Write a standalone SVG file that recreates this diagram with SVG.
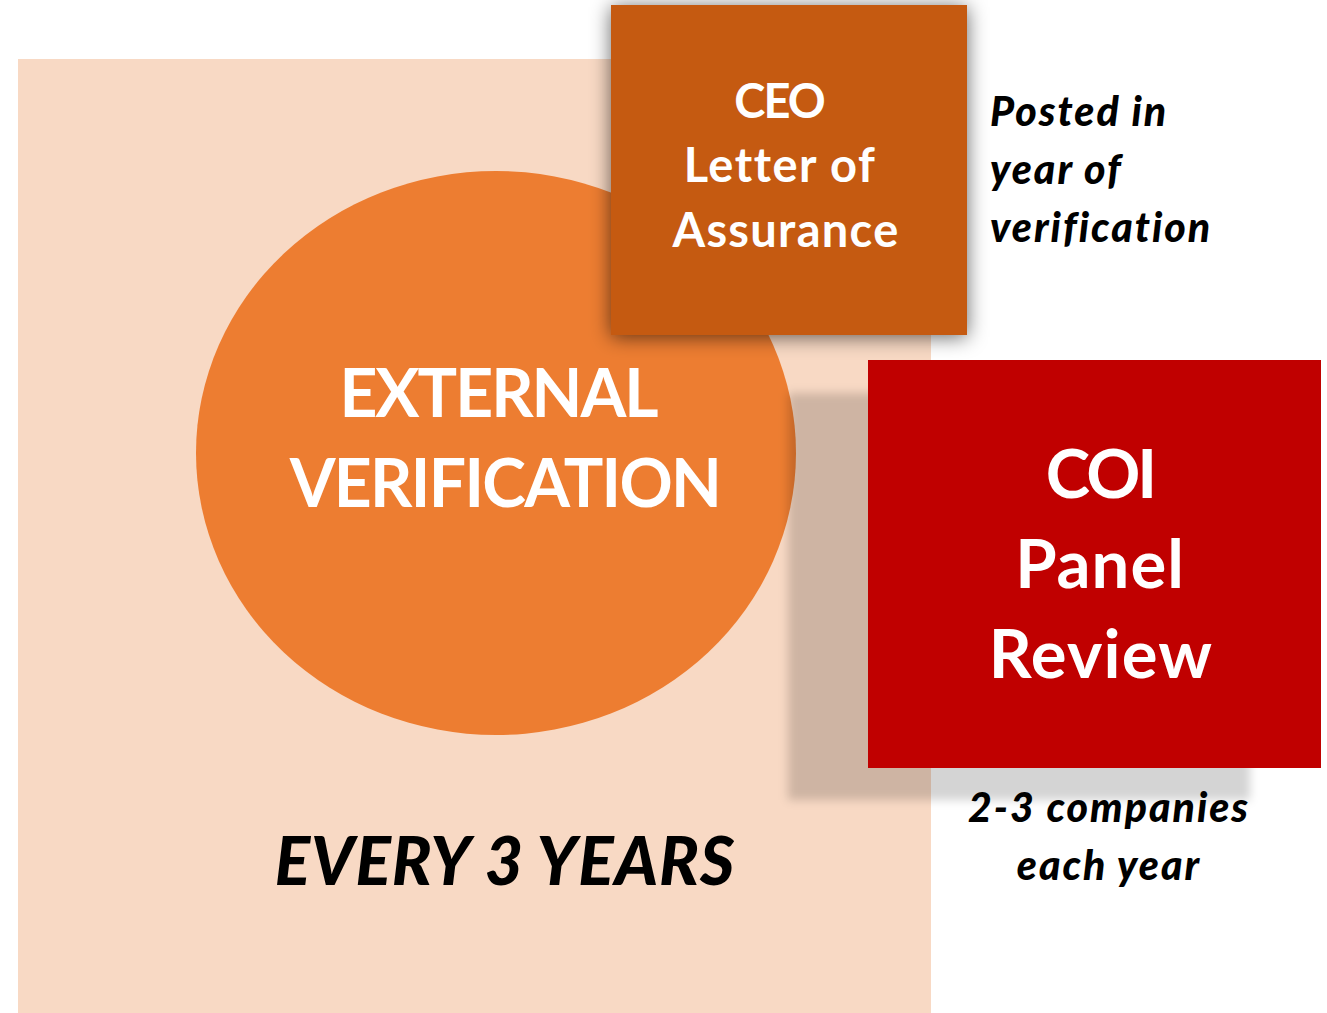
<svg xmlns="http://www.w3.org/2000/svg" width="1327" height="1013" viewBox="0 0 1327 1013">
  <defs>
    <filter id="softShadow" x="-20%" y="-20%" width="140%" height="140%">
      <feGaussianBlur stdDeviation="10"/>
    </filter>
    <filter id="edgeBlur" x="-10%" y="-10%" width="120%" height="120%">
      <feGaussianBlur stdDeviation="5"/>
    </filter>
  </defs>
  <style>
    .w { fill: #FFFFFF; font-family: Lato, "Open Sans", sans-serif; font-weight: 700; text-anchor: middle; }
    .k { fill: #000000; font-family: Lato, "Open Sans", sans-serif; font-weight: 900; font-style: italic; }
  </style>
  <rect x="0" y="0" width="1327" height="1013" fill="#FFFFFF"/>

  <g id="background">
    <rect x="18" y="59" width="913" height="954" fill="#F8D9C4"/>
  </g>

  <g id="external-verification">
    <ellipse cx="496" cy="453" rx="300" ry="282" fill="#ED7D31"/>
    <text class="w" font-size="66" x="498" y="417" letter-spacing="-2">EXTERNAL</text>
    <text class="w" font-size="66" x="505" y="507" letter-spacing="-1.7">VERIFICATION</text>
  </g>

  <g id="every-3-years">
    <text class="k" font-size="66" x="505" y="885" text-anchor="middle" letter-spacing="1">EVERY 3 YEARS</text>
  </g>

  <g id="coi-panel-review">
    <rect x="788" y="393" width="462" height="407" fill="#000000" fill-opacity="0.17" filter="url(#edgeBlur)"/>
    <rect x="868" y="360" width="453" height="408" fill="#C00000"/>
    <text class="w" font-size="67" x="1100" y="498" letter-spacing="-3">COI</text>
    <text class="w" font-size="67" x="1100" y="588" letter-spacing="1">Panel</text>
    <text class="w" font-size="67" x="1101" y="678" letter-spacing="1.2">Review</text>
  </g>

  <g id="coi-note">
    <text class="k" font-size="41" x="1109" y="822" text-anchor="middle" letter-spacing="2">2-3 companies</text>
    <text class="k" font-size="41" x="1109" y="880" text-anchor="middle" letter-spacing="2">each year</text>
  </g>

  <g id="ceo-letter">
    <rect x="611" y="7" width="356" height="330" fill="#000000" fill-opacity="0.6" filter="url(#softShadow)"/>
    <rect x="611" y="5" width="356" height="330" fill="#C55A11"/>
    <text class="w" font-size="47" x="779" y="118" letter-spacing="-2">CEO</text>
    <text class="w" font-size="47" x="780" y="182" letter-spacing="1.5">Letter of</text>
    <text class="w" font-size="47" x="786" y="247" letter-spacing="1.3">Assurance</text>
  </g>

  <g id="ceo-note">
    <text class="k" font-size="41" x="990" y="126" letter-spacing="2">Posted in</text>
    <text class="k" font-size="41" x="990" y="184" letter-spacing="2">year of</text>
    <text class="k" font-size="41" x="990" y="242" letter-spacing="2">verification</text>
  </g>

  <g id="connectors"/>
</svg>
